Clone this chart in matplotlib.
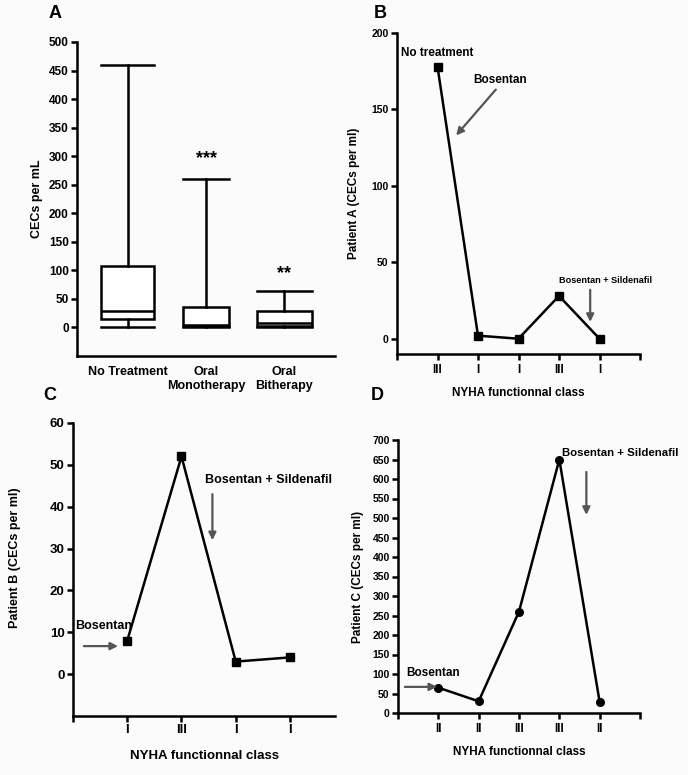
import matplotlib
matplotlib.use("Agg")
import matplotlib.pyplot as plt

plt.rcParams['font.family'] = ['Liberation Sans', 'DejaVu Sans']
plt.rcParams['font.weight'] = 'bold'

# ---- Panel A data (box plot summary) ----
groups_a = ["No Treatment", "Oral\nMonotherapy", "Oral\nBitherapy"]
whislo_a = [0, 0, 0]
q1_a = [15, 2, 2]
med_a = [28, 5, 8]
q3_a = [108, 36, 29]
whishi_a = [460, 260, 63]
stars_a = ["", "***", "**"]
stars_y_a = [None, 296, 94]

# ---- Panel B data ----
classes_b = ["III", "I", "I", "III", "I"]
values_b = [178, 2, 0, 28, 0]

# ---- Panel C data ----
classes_c = ["I", "III", "I", "I"]
values_c = [8, 52, 3, 4]

# ---- Panel D data ----
classes_d = ["II", "II", "III", "III", "II"]
values_d = [65, 30, 260, 650, 28]

W, H = 688, 775
fig = plt.figure(figsize=(W / 100, H / 100), dpi=100, facecolor='#fbfbfb')


def ax_px(left, top, right, bottom):
    return fig.add_axes([left / W, 1 - bottom / H, (right - left) / W, (bottom - top) / H])


def style(ax):
    ax.set_facecolor('none')
    for s in ['top', 'right']:
        ax.spines[s].set_visible(False)
    for s in ['left', 'bottom']:
        ax.spines[s].set_linewidth(1.8)
    ax.tick_params(width=1.8, length=4, direction='out', pad=2)


arrow_kw = dict(arrowstyle='-|>', color='#555555', lw=1.6, mutation_scale=11, shrinkA=0, shrinkB=0)
LW = 1.8

# ---------------- Panel A ----------------
axA = ax_px(77, 42, 335, 356)
style(axA)
stats = []
for i in range(len(groups_a)):
    stats.append(dict(whislo=whislo_a[i], q1=q1_a[i], med=med_a[i], q3=q3_a[i],
                      whishi=whishi_a[i], fliers=[], label=groups_a[i]))
pos = [1, 2, 3]
axA.bxp(stats, positions=pos, widths=[0.68, 0.6, 0.7], showfliers=False, patch_artist=True,
        boxprops=dict(facecolor='white', edgecolor='black', linewidth=LW),
        medianprops=dict(color='black', linewidth=LW),
        whiskerprops=dict(color='black', linewidth=LW),
        capprops=dict(color='black', linewidth=LW), capwidths=[0.68, 0.6, 0.7])
axA.set_xlim(0.35, 3.65)
axA.set_ylim(-50, 500)
axA.set_yticks(range(0, 501, 50))
axA.tick_params(axis='y', labelsize=8.5)
axA.tick_params(axis='x', length=0, labelsize=9, pad=7)
axA.set_xticks(pos)
axA.set_xticklabels(groups_a)
axA.set_ylabel("CECs per mL", fontsize=9, fontweight='bold', labelpad=4)
for i, (s, y) in enumerate(zip(stars_a, stars_y_a)):
    if s:
        axA.text(pos[i], y, s, ha='center', va='center', fontsize=13, fontweight='bold')
fig.text(55 / W, 1 - 13 / H, "A", fontsize=13, fontweight='bold', ha='center', va='center')

# ---------------- Panel B ----------------
axB = ax_px(397, 33, 640, 354)
style(axB)
xb = list(range(1, len(values_b) + 1))
axB.plot(xb, values_b, color='black', lw=LW, marker='s', markersize=5.5)
axB.set_xlim(0, 6)
axB.set_ylim(-10, 200)
axB.set_yticks([0, 50, 100, 150, 200])
axB.set_xticks(range(0, 7))
axB.set_xticklabels([""] + classes_b + [""])
axB.tick_params(axis='y', labelsize=7.5)
axB.tick_params(axis='x', labelsize=8.5, pad=3)
axB.set_ylabel("Patient A (CECs per ml)", fontsize=8.5, fontweight='bold', labelpad=8)
axB.set_xlabel("NYHA functionnal class", fontsize=8.5, fontweight='bold', labelpad=8)
axB.text(1.0, 187, "No treatment", ha='center', va='center', fontsize=8.5, fontweight='bold')
axB.text(2.55, 169, "Bosentan", ha='center', va='center', fontsize=8.5, fontweight='bold')
axB.annotate("", xy=(1.46, 133), xytext=(2.44, 163), arrowprops=arrow_kw)
axB.text(5.14, 38, "Bosentan + Sildenafil", ha='center', va='center', fontsize=6.6, fontweight='bold')
axB.annotate("", xy=(4.77, 11), xytext=(4.77, 32), arrowprops=arrow_kw)
fig.text(380 / W, 1 - 13 / H, "B", fontsize=13, fontweight='bold', ha='center', va='center')

# ---------------- Panel C ----------------
axC = ax_px(73, 423, 335, 716)
style(axC)
xc = list(range(1, len(values_c) + 1))
axC.plot(xc, values_c, color='black', lw=LW, marker='s', markersize=5.5)
axC.set_xlim(0, 4.83)
axC.set_ylim(-10, 60)
axC.set_yticks(range(0, 61, 10))
axC.set_xticks(range(0, 5))
axC.set_xticklabels([""] + classes_c)
axC.tick_params(axis='both', labelsize=9.5)
axC.set_ylabel("Patient B (CECs per ml)", fontsize=9, fontweight='bold', labelpad=6)
axC.yaxis.set_label_coords(-0.2, 0.54)
axC.set_xlabel("NYHA functionnal class", fontsize=9.5, fontweight='bold', labelpad=10)
axC.text(0.03, 11.5, "Bosentan", ha='left', va='center', fontsize=9, fontweight='bold')
axC.annotate("", xy=(0.83, 6.7), xytext=(0.2, 6.7), arrowprops=arrow_kw)
axC.text(3.6, 46.5, "Bosentan + Sildenafil", ha='center', va='center', fontsize=9, fontweight='bold')
axC.annotate("", xy=(2.57, 32), xytext=(2.57, 43), arrowprops=arrow_kw)
fig.text(50 / W, 1 - 395 / H, "C", fontsize=13, fontweight='bold', ha='center', va='center')

# ---------------- Panel D ----------------
axD = ax_px(398, 440, 640, 713)
style(axD)
xd = list(range(1, len(values_d) + 1))
axD.plot(xd, values_d, color='black', lw=LW, marker='o', markersize=5.5)
axD.set_xlim(0, 6)
axD.set_ylim(0, 700)
axD.set_yticks(range(0, 701, 50))
axD.set_xticks(range(0, 7))
axD.set_xticklabels([""] + classes_d + [""])
axD.tick_params(axis='y', labelsize=7.5)
axD.tick_params(axis='x', labelsize=8.5, pad=3)
axD.set_ylabel("Patient C (CECs per ml)", fontsize=8.5, fontweight='bold', labelpad=6)
axD.set_xlabel("NYHA functionnal class", fontsize=8.5, fontweight='bold', labelpad=8)
axD.text(0.2, 103, "Bosentan", ha='left', va='center', fontsize=8.5, fontweight='bold')
axD.annotate("", xy=(0.97, 67), xytext=(0.17, 67), arrowprops=arrow_kw)
axD.text(4.07, 667, "Bosentan + Sildenafil", ha='left', va='center', fontsize=8.2, fontweight='bold')
axD.annotate("", xy=(4.67, 508), xytext=(4.67, 618), arrowprops=arrow_kw)
fig.text(377 / W, 1 - 395 / H, "D", fontsize=13, fontweight='bold', ha='center', va='center')

fig.savefig("out.png", dpi=100, facecolor=fig.get_facecolor())
